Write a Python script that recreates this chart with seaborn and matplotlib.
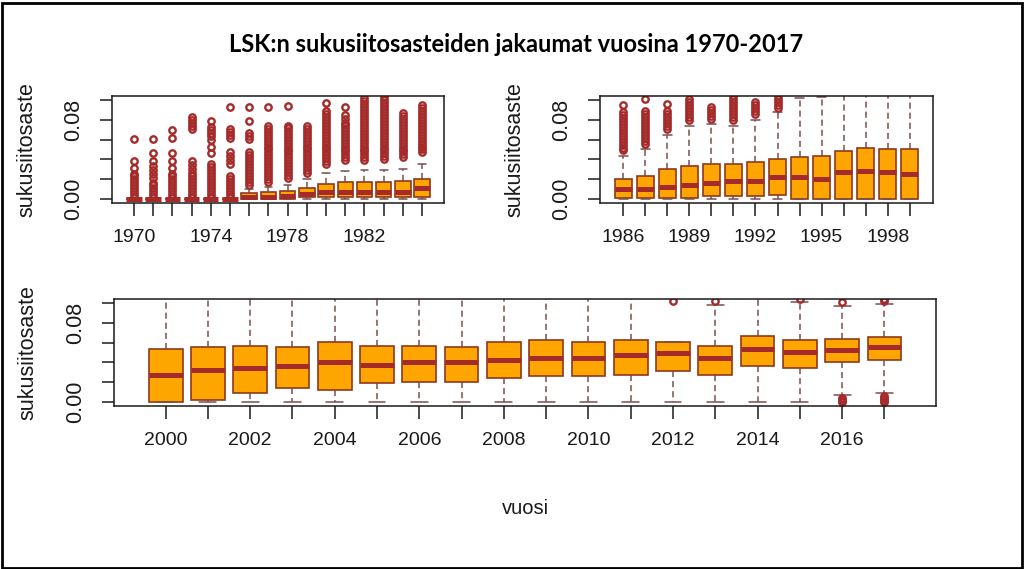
import numpy as np
import pandas as pd
import matplotlib
matplotlib.use("Agg")
import matplotlib.pyplot as plt
from matplotlib.patches import Rectangle
import seaborn as sns

# ---------------- data ----------------
TITLE = "LSK:n sukusiitosasteiden jakaumat vuosina 1970-2017"
YLABEL = "sukusiitosaste"
XLABEL = "vuosi"

# panel 1: 1970-1985
years_a = list(range(1970, 1986))
lo_a = [0] * 16
q1_a = [0, 0, 0, 0, 0, 0, 0, 0, 0, 0.0016, 0.0016, 0.0016, 0.0016, 0.0016, 0.0016, 0.0016]
med_a = [0, 0, 0, 0, 0, 0, 0.0023, 0.0025, 0.003, 0.005, 0.0066, 0.0075, 0.0066, 0.0066, 0.0076, 0.011]
q3_a = [0, 0, 0, 0, 0, 0, 0.0056, 0.007, 0.0085, 0.0115, 0.0154, 0.017, 0.017, 0.017, 0.018, 0.0204]
hi_a = [0, 0, 0, 0, 0, 0, 0.010, 0.012, 0.014, 0.020, 0.026, 0.028, 0.029, 0.029, 0.030, 0.035]
out_a = [
    [0.002, 0.005, 0.008, 0.011, 0.014, 0.017, 0.020, 0.023, 0.025, 0.031, 0.038, 0.061],
    [0.002, 0.005, 0.008, 0.011, 0.014, 0.016, 0.021, 0.025, 0.029, 0.033, 0.038, 0.046, 0.061],
    [0.002, 0.005, 0.008, 0.011, 0.014, 0.017, 0.020, 0.023, 0.025, 0.031, 0.038, 0.046, 0.062, 0.070],
    [0.002, 0.005, 0.008, 0.011, 0.014, 0.017, 0.020, 0.023, 0.026, 0.030, 0.034, 0.038,
     0.071, 0.074, 0.077, 0.080, 0.083],
    [0.002, 0.005, 0.008, 0.011, 0.014, 0.017, 0.020, 0.023, 0.026, 0.029, 0.032, 0.035,
     0.046, 0.053, 0.060, 0.064, 0.067, 0.070, 0.073, 0.079],
    [0.002, 0.005, 0.008, 0.011, 0.014, 0.017, 0.020, 0.023, 0.035, 0.039, 0.043, 0.047,
     0.062, 0.065, 0.068, 0.071, 0.093],
    [0.014, 0.017, 0.020, 0.023, 0.026, 0.029, 0.032, 0.035, 0.038, 0.041, 0.044, 0.047,
     0.061, 0.064, 0.067, 0.079, 0.093],
    [0.017, 0.020, 0.023, 0.026, 0.029, 0.032, 0.035, 0.038, 0.041, 0.044, 0.047, 0.050,
     0.053, 0.056, 0.059, 0.062, 0.065, 0.068, 0.071, 0.074, 0.093],
    [0.021, 0.024, 0.027, 0.030, 0.033, 0.036, 0.039, 0.042, 0.045, 0.048, 0.051, 0.054,
     0.057, 0.060, 0.063, 0.066, 0.069, 0.072, 0.074, 0.094],
    [0.026, 0.029, 0.032, 0.035, 0.038, 0.041, 0.044, 0.047, 0.050, 0.053, 0.056, 0.059,
     0.062, 0.065, 0.068, 0.071, 0.074],
    [0.035, 0.038, 0.041, 0.044, 0.047, 0.050, 0.053, 0.056, 0.059, 0.062, 0.065, 0.068,
     0.071, 0.074, 0.077, 0.080, 0.083, 0.086, 0.089, 0.097],
    [0.039, 0.042, 0.045, 0.048, 0.051, 0.054, 0.057, 0.060, 0.063, 0.066, 0.069, 0.072,
     0.075, 0.077, 0.081, 0.085, 0.093],
    [0.039, 0.042, 0.045, 0.048, 0.051, 0.054, 0.057, 0.060, 0.063, 0.066, 0.069, 0.072,
     0.075, 0.078, 0.081, 0.084, 0.087, 0.090, 0.093, 0.096, 0.099, 0.102],
    [0.040, 0.043, 0.046, 0.049, 0.052, 0.055, 0.058, 0.061, 0.064, 0.067, 0.070, 0.073,
     0.076, 0.079, 0.082, 0.085, 0.088, 0.091, 0.094, 0.097, 0.100, 0.103],
    [0.042, 0.045, 0.048, 0.051, 0.054, 0.057, 0.060, 0.063, 0.066, 0.069, 0.072, 0.075,
     0.078, 0.081, 0.084, 0.087],
    [0.047, 0.050, 0.053, 0.056, 0.059, 0.062, 0.065, 0.068, 0.071, 0.074, 0.077, 0.080,
     0.083, 0.086, 0.089, 0.092, 0.095],
]

# panel 2: 1986-1999
years_b = list(range(1986, 2000))
lo_b = [0] * 14
q1_b = [0.0013, 0.0013, 0.0013, 0.0013, 0.003, 0.003, 0.003, 0.004, 0, 0, 0, 0, 0, 0]
med_b = [0.0105, 0.0105, 0.012, 0.014, 0.0165, 0.018, 0.018, 0.022, 0.022, 0.0204, 0.027, 0.0286, 0.027, 0.025]
q3_b = [0.0207, 0.0237, 0.030, 0.0336, 0.035, 0.035, 0.037, 0.040, 0.0425, 0.043, 0.048, 0.052, 0.050, 0.050]
hi_b = [0.043, 0.050, 0.065, 0.074, 0.076, 0.074, 0.080, 0.088, 0.102, 0.103, 0.115, 0.12, 0.12, 0.12]
out_b = [
    [0.049, 0.052, 0.055, 0.058, 0.061, 0.064, 0.067, 0.070, 0.073, 0.076, 0.079, 0.082, 0.085, 0.088, 0.095],
    [0.056, 0.059, 0.062, 0.065, 0.068, 0.071, 0.074, 0.077, 0.080, 0.083, 0.086, 0.089, 0.101],
    [0.071, 0.074, 0.077, 0.080, 0.083, 0.086, 0.089, 0.096],
    [0.080, 0.083, 0.086, 0.089, 0.092, 0.095, 0.098, 0.101],
    [0.081, 0.084, 0.087, 0.090, 0.093],
    [0.080, 0.083, 0.086, 0.089, 0.092, 0.095, 0.098, 0.101, 0.104],
    [0.086, 0.089, 0.092, 0.095, 0.098],
    [0.092, 0.095, 0.098, 0.101, 0.104],
    [], [], [], [], [], [],
]

# panel 3: 2000-2017
years_c = list(range(2000, 2018))
lo_c = [0] * 16 + [0.007, 0.009]
q1_c = [0, 0.002, 0.009, 0.0145, 0.012, 0.019, 0.020, 0.020, 0.024, 0.026, 0.026, 0.0276,
        0.031, 0.0276, 0.036, 0.034, 0.040, 0.042]
med_c = [0.0276, 0.0326, 0.0345, 0.0359, 0.0408, 0.0375, 0.0408, 0.0408, 0.0428, 0.044,
         0.044, 0.047, 0.049, 0.044, 0.054, 0.051, 0.0526, 0.0556]
q3_c = [0.054, 0.0556, 0.057, 0.056, 0.0605, 0.057, 0.057, 0.056, 0.0605, 0.0625, 0.0605,
        0.0625, 0.0605, 0.057, 0.067, 0.0625, 0.064, 0.066]
hi_c = [0.125, 0.125, 0.12, 0.11, 0.12, 0.108, 0.108, 0.106, 0.11, 0.11, 0.108, 0.11,
        0.102, 0.098, 0.108, 0.101, 0.097, 0.099]
out_c = [[]] * 13 + [
    [0.102],
    [],
    [0.104],
    [0.000, 0.0015, 0.003, 0.0045, 0.101],
    [0.000, 0.0015, 0.003, 0.0045, 0.006, 0.102, 0.104],
]

Y_TICKS = [0.00, 0.02, 0.04, 0.06, 0.08, 0.10]
Y_TICK_LABELS = ["0.00", "", "", "", "0.08", ""]

# ---------------- style ----------------
ORANGE = "#FFA500"
BROWN = "#A52A2A"
BOXEDGE = "#8E3A1C"
WHISK = "#7A4E4E"

sns.set_style("ticks")
plt.rcParams["font.family"] = ["Liberation Sans", "DejaVu Sans"]


def sample_from_stats(lo, q1, med, q3, hi, outs):
    low = [v for v in outs if v < lo]
    high = [v for v in outs if v > hi]
    L = max(len(low), len(high)) + 1
    B = L + 2
    return (low + [lo] * (L - len(low)) + [q1] * B + [med] + [q3] * B
            + [hi] * (L - len(high)) + high)


def panel(ax, years, lo, q1, med, q3, hi, outs, every, xlab_pos):
    rows = []
    for y, a, b, c, d, e, o in zip(years, lo, q1, med, q3, hi, outs):
        for v in sample_from_stats(a, b, c, d, e, o):
            rows.append((str(y), v))
    df = pd.DataFrame(rows, columns=["vuosi", "sukusiitosaste"])
    order = [str(y) for y in years]
    sns.boxplot(
        data=df, x="vuosi", y="sukusiitosaste", order=order, ax=ax,
        color=ORANGE, saturation=1, linecolor=BOXEDGE, linewidth=1.2,
        width=0.8, whis=1.4, fliersize=4.6,
        boxprops=dict(edgecolor=BOXEDGE, linewidth=1.2),
        medianprops=dict(color=BROWN, linewidth=3.6, solid_capstyle="butt"),
        whiskerprops=dict(color=WHISK, linewidth=1.1, linestyle=(0, (4, 2.6))),
        capprops=dict(color=WHISK, linewidth=1.1),
        flierprops=dict(marker="o", markerfacecolor="none", markeredgecolor=BROWN,
                        markeredgewidth=1.7, markersize=4.6),
    )
    n = len(years)
    ax.set_xlim(-0.5 - 0.04 * n, n - 0.5 + 0.04 * n)
    ax.set_ylim(-0.004, 0.104)
    ax.set_xticks(range(n))
    ax.set_xticklabels([str(y) if i % every == 0 else "" for i, y in enumerate(years)],
                       fontsize=14, color="#1a1a1a")
    ax.set_yticks(Y_TICKS)
    ax.set_yticklabels(Y_TICK_LABELS, rotation=90, va="center", fontsize=15.5, color="#1a1a1a")
    ax.tick_params(axis="both", direction="out", length=9, width=1.1, color="#1a1a1a")
    ax.tick_params(axis="x", pad=10)
    ax.tick_params(axis="y", pad=11)
    for s in ax.spines.values():
        s.set_visible(True)
        s.set_linewidth(1.1)
        s.set_color("#1a1a1a")
    ax.set_xlabel("")
    ax.set_ylabel(YLABEL, fontsize=15.5, color="#1a1a1a")
    ax.yaxis.set_label_coords(xlab_pos, 0.5)


W, H = 1024, 569
fig = plt.figure(figsize=(W / 100, H / 100), dpi=100)
fig.patch.set_facecolor("white")


def rect(x0, x1, y0, y1):
    return [x0 / W, 1 - y1 / H, (x1 - x0) / W, (y1 - y0) / H]


ax1 = fig.add_axes(rect(112, 444, 96, 203))
ax2 = fig.add_axes(rect(600, 933, 96, 203))
ax3 = fig.add_axes(rect(114, 936, 299, 406))

panel(ax1, years_a, lo_a, q1_a, med_a, q3_a, hi_a, out_a, 4, -0.225)
panel(ax2, years_b, lo_b, q1_b, med_b, q3_b, hi_b, out_b, 3, -0.225)
panel(ax3, years_c, lo_c, q1_c, med_c, q3_c, hi_c, out_c, 2, -0.092)

fig.text(516 / W, 1 - 45 / H, TITLE, ha="center", va="center",
         fontfamily="Lato", fontweight="bold", fontsize=17, color="black")
fig.text(525 / W, 1 - 508 / H, XLABEL, ha="center", va="center",
         fontsize=14.5, color="#1a1a1a")

fig.add_artist(Rectangle((1.5 / W, 1.5 / H), (W - 3.5) / W, (H - 4) / H,
                         transform=fig.transFigure, fill=False, lw=2, ec="black"))

fig.savefig("out.png", dpi=100)
